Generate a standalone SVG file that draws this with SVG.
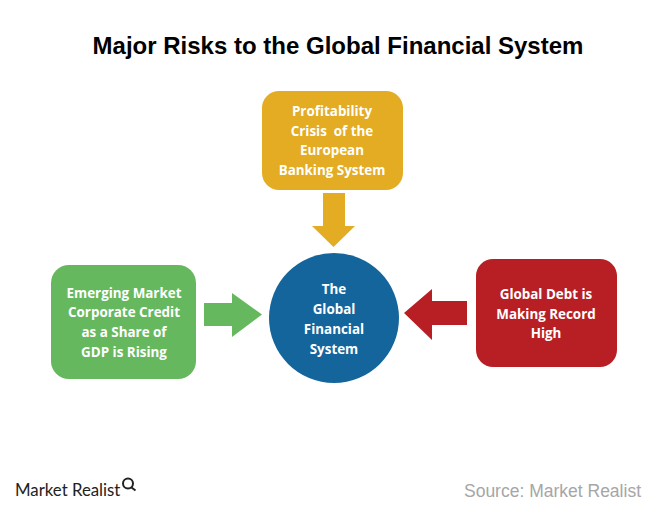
<svg xmlns="http://www.w3.org/2000/svg" width="660" height="512" viewBox="0 0 660 512">
<style>
text{font-family:"Open Sans","Liberation Sans",sans-serif}
.l{font-size:13.4px;font-weight:700;fill:#fff;text-anchor:middle;white-space:pre}
.t{font-family:"Liberation Sans",Arial,sans-serif;font-size:24px;font-weight:700;fill:#000;text-anchor:middle}
.s{font-family:"Liberation Sans",Arial,sans-serif;font-size:17.500px;fill:#a6a6a6;text-anchor:end}
.m{font-family:Lato,"Liberation Sans",sans-serif;font-size:16.800px;fill:#222}
</style>
<rect width="660" height="512" fill="#fff"/>
<text class="t" x="338" y="54">Major Risks to the Global Financial System</text>
<g id="connectors">
<polygon points="323,193 345,193 345,226 355,226 333.500,247 312,226 323,226" fill="#e3ac22"/>
<polygon points="204,303 232,303 232,293 262,314.500 232,337 232,326 204,326" fill="#66b85f"/>
<polygon points="467,301 467,325 432,325 432,340 404,313 432,289 432,301" fill="#b81f25"/>
</g>
<g id="top"><rect x="262" y="91" width="141" height="99" rx="17" fill="#e3ac22"/>
<text class="l" x="332" y="116">Profitability</text><text class="l" x="332" y="136">Crisis  of the</text><text class="l" x="332" y="155">European</text><text class="l" x="332" y="175">Banking System</text></g>
<g id="left"><rect x="51" y="265" width="145" height="114" rx="18" fill="#66b85f"/>
<text class="l" x="124" y="298">Emerging Market</text><text class="l" x="124" y="317">Corporate Credit</text><text class="l" x="124" y="337">as a Share of</text><text class="l" x="124" y="357">GDP is Rising</text></g>
<g id="right"><rect x="476" y="259" width="141" height="108" rx="17" fill="#b81f25"/>
<text class="l" x="546" y="299">Global Debt is</text><text class="l" x="546" y="319">Making Record</text><text class="l" x="546" y="338">High</text></g>
<g id="center"><circle cx="334" cy="318" r="65" fill="#14659b"/>
<text class="l" x="334" y="294">The</text><text class="l" x="334" y="314">Global</text><text class="l" x="334" y="334">Financial</text><text class="l" x="334" y="354">System</text></g>
<text class="m" x="15" y="496">Market Realist</text>
<g id="logo" fill="none" stroke="#222" stroke-width="2"><circle cx="128" cy="483.500" r="5"/><path d="M131.500 487.500l4 3"/></g>
<text class="s" x="641" y="497">Source: Market Realist</text>
</svg>
